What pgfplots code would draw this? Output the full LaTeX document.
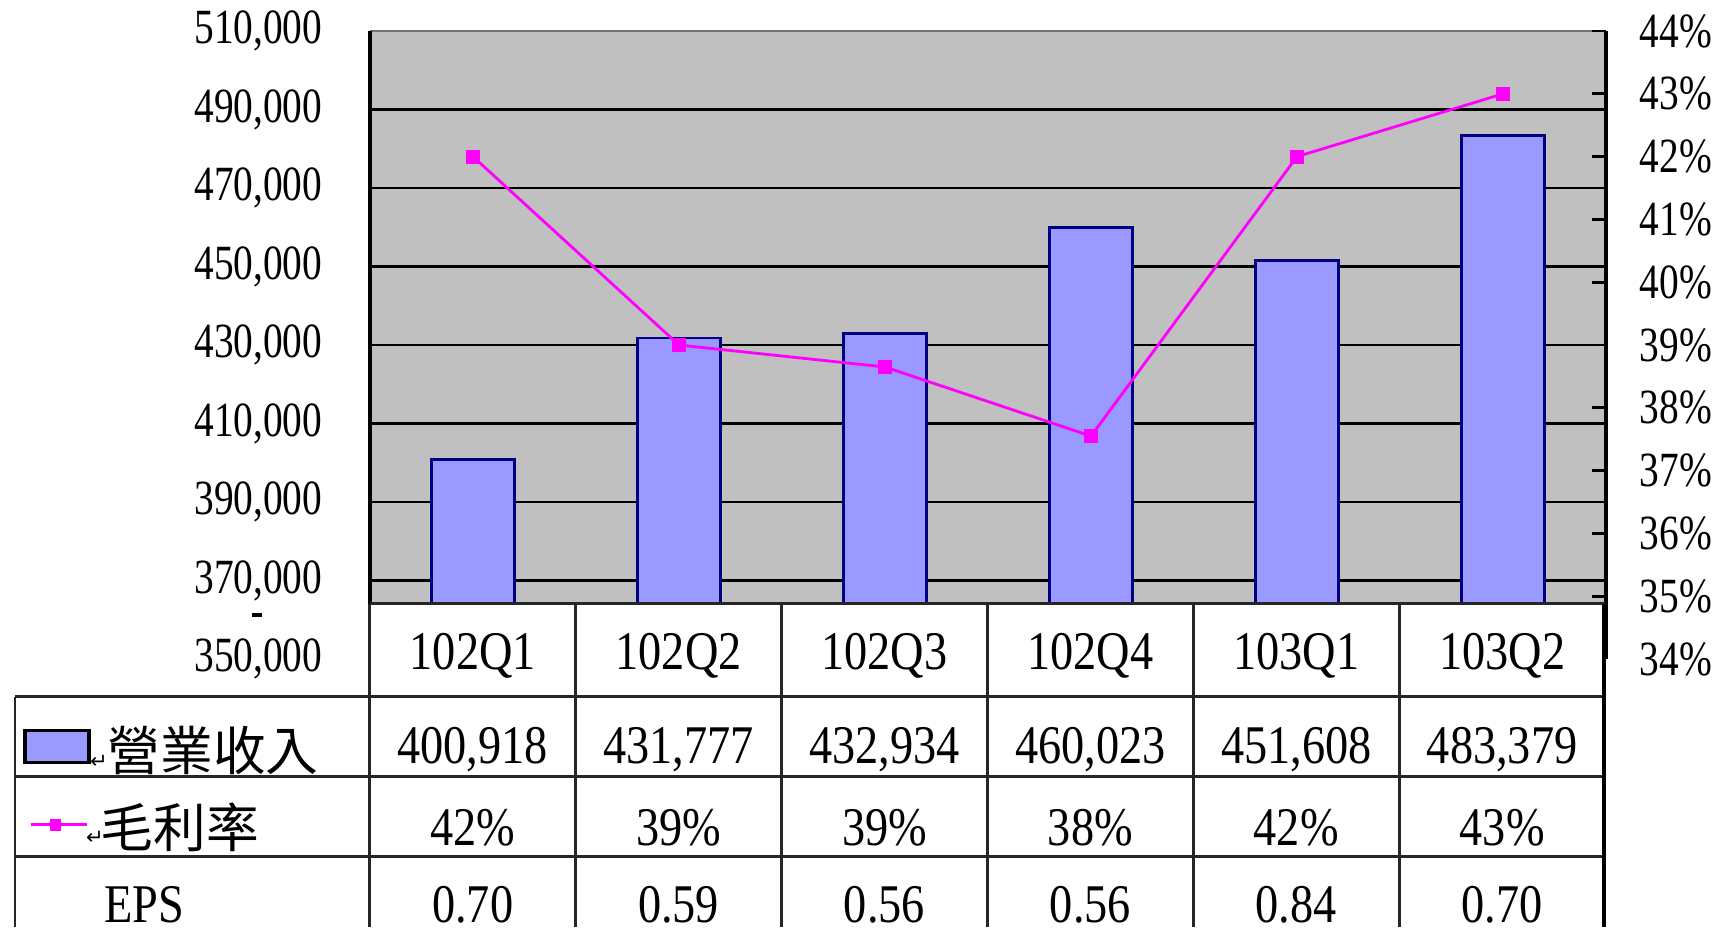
\documentclass[border=0pt]{standalone}
\usepackage{pgfplots}
\pgfplotsset{compat=1.18}
\usepackage{fontspec}
\setmainfont{Liberation Serif}[FakeStretch=0.85]
\newfontfamily\tickfont{Liberation Serif}[FakeStretch=0.8]
\newfontfamily\cjk{Noto Sans CJK TC}
\newfontfamily\sym{DejaVu Sans}
\definecolor{plotgray}{HTML}{C0C0C0}
\definecolor{barblue}{HTML}{9999FF}
\definecolor{bardark}{HTML}{000080}
\definecolor{mag}{HTML}{FF00FF}
\begin{document}
\begin{tikzpicture}
\path[use as bounding box] (0cm,0cm) rectangle (17.17cm,-9.28cm);
% ---- bars, left axis ----
\begin{axis}[at={(3.70cm,-6.59cm)}, anchor=south west, scale only axis,
  width=12.36cm, height=6.28cm,
  xmin=-0.5, xmax=5.5, ymin=350000, ymax=510000,
  xtick=\empty,
  ytick={350000,370000,390000,410000,430000,450000,470000,490000,510000},
  scaled y ticks=false,
  ytick pos=left, tick align=inside, major tick length=0.12cm,
  tick style={black, line width=0.8pt},
  ymajorgrids, major grid style={black, line width=0.6pt},
  axis background/.style={fill=plotgray},
  separate axis lines,
  every outer x axis line/.append style={draw=black!55, line width=0.5pt},
  every outer y axis line/.append style={draw=black, line width=1pt},
  yticklabel style={/pgf/number format/.cd, fixed, 1000 sep={,}, assume math mode=true,
     /tikz/.cd, anchor=east, inner sep=0pt, xshift=-0.47cm,
     font=\tickfont\fontsize{14}{16}\selectfont},
]
\addplot[ybar, bar width=0.4, fill=barblue, draw=bardark, line width=0.8pt]
  coordinates {(0,400918) (1,431777) (2,432934) (3,460023) (4,451608) (5,483379)};
\end{axis}
% ---- gross margin, right axis ----
\begin{axis}[at={(3.70cm,-6.59cm)}, anchor=south west, scale only axis,
  width=12.36cm, height=6.28cm,
  xmin=-0.5, xmax=5.5, ymin=34, ymax=44,
  ytick={34,35,36,37,38,39,40,41,42,43,44},
  axis x line=none, axis y line*=right, axis line style={-, black, line width=1pt},
  tick align=inside, major tick length=0.14cm,
  tick style={black, line width=0.8pt},
  yticklabel={\pgfmathprintnumber[fixed,precision=0]{\tick}\%},
  yticklabel style={/pgf/number format/assume math mode=true,
     anchor=west, inner sep=0pt, xshift=0.33cm,
     font=\tickfont\fontsize{14}{16}\selectfont},
]
\addplot[mag, line width=0.8pt, mark=square*, mark size=1.6pt, mark options={fill=mag, draw=mag}]
  coordinates {(0,42) (1,39) (2,38.65) (3,37.55) (4,42) (5,43)};
\end{axis}
% ---- data table ----
\begin{scope}[x=0.01cm,y=-0.01cm]
\fill[white] (370,604) rectangle (1606,928);
\draw[line width=0.8pt, black!85] (370,604) -- (1606,604);
\foreach \yy in {697,777,857} \draw[line width=0.8pt, black!85] (15,\yy) -- (1606,\yy);
\draw[line width=0.8pt, black!85] (15,697) -- (15,928);
\foreach \xx in {370,576,782,988,1194,1400} \draw[line width=0.8pt, black!85] (\xx,604) -- (\xx,928);
\draw[line width=1pt, black] (1605,604) -- (1605,928);
\draw[line width=1.2pt] (252,615) -- (262,615);
% legend column
\draw[fill=barblue, draw=black, line width=1pt] (25,731) rectangle (89,763);
\node[inner sep=0pt, font=\sym\fontsize{6}{7}\selectfont] at (99,762) {↵};
\node[anchor=west, inner sep=0pt, font=\cjk\fontsize{15}{17}\selectfont] at (107,751) {營業收入};
\draw[mag, line width=0.8pt] (31,825) -- (87,825);
\fill[mag] (50,819) rectangle (61,831);
\node[inner sep=0pt, font=\sym\fontsize{6}{7}\selectfont] at (95,838) {↵};
\node[anchor=west, inner sep=0pt, font=\cjk\fontsize{15}{17}\selectfont] at (100,828) {毛利率};
\node[anchor=west, inner sep=0pt, font=\fontsize{15.5}{17}\selectfont] at (104,905) {EPS};
% table cells
\begin{scope}[every node/.style={inner sep=0pt, font=\fontsize{15.5}{17}\selectfont}]
\node at (473,656) {102Q1}; \node at (679,656) {102Q2}; \node at (885,656) {102Q3};
\node at (1091,656) {102Q4}; \node at (1297,656) {103Q1}; \node at (1503,656) {103Q2};
\node at (473,750) {400,918}; \node at (679,750) {431,777}; \node at (885,750) {432,934};
\node at (1091,750) {460,023}; \node at (1297,750) {451,608}; \node at (1503,750) {483,379};
\node at (473,828) {42\%}; \node at (679,828) {39\%}; \node at (885,828) {39\%};
\node at (1091,828) {38\%}; \node at (1297,828) {42\%}; \node at (1503,828) {43\%};
\node at (473,905) {0.70}; \node at (679,905) {0.59}; \node at (885,905) {0.56};
\node at (1091,905) {0.56}; \node at (1297,905) {0.84}; \node at (1503,905) {0.70};
\end{scope}
\end{scope}
\end{tikzpicture}
\end{document}
